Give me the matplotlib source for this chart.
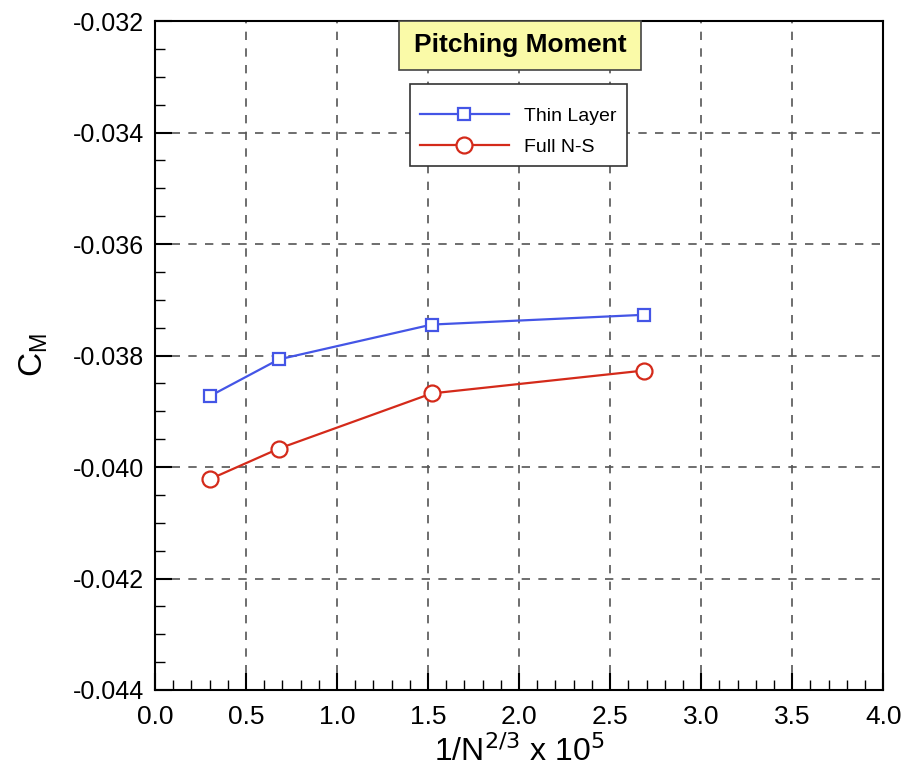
import matplotlib
matplotlib.use('Agg')
import matplotlib.pyplot as plt
from matplotlib.patches import Rectangle
from matplotlib.ticker import MultipleLocator, FormatStrFormatter

plt.rcParams['font.family'] = ['Liberation Sans', 'DejaVu Sans']

# grid refinement parameter 1/N^(2/3) x 1e5
grid_param = [0.30, 0.68, 1.52, 2.685]
cm_thin_layer = [-0.03873, -0.03807, -0.037445, -0.03727]
cm_full_ns = [-0.04022, -0.03967, -0.03868, -0.03827]

fig = plt.figure(figsize=(9.03, 7.70), dpi=100)
ax = fig.add_axes([0.1717, 0.1039, 0.8063, 0.8688])

ax.plot(grid_param, cm_thin_layer, color='#4455e6', lw=1.6, marker='s',
        ms=8.5, mfc='white', mec='#4455e6', mew=1.6, label='Thin Layer', zorder=5)
ax.plot(grid_param, cm_full_ns, color='#d42a1a', lw=1.6, marker='o',
        ms=11.5, mfc='white', mec='#d42a1a', mew=1.6, label='Full N-S', zorder=5)

ax.set_xlim(0.0, 4.0)
ax.set_ylim(-0.044, -0.032)
ax.xaxis.set_major_locator(MultipleLocator(0.5))
ax.xaxis.set_minor_locator(MultipleLocator(0.1))
ax.yaxis.set_major_locator(MultipleLocator(0.002))
ax.yaxis.set_minor_locator(MultipleLocator(0.0005))
ax.xaxis.set_major_formatter(FormatStrFormatter('%.1f'))
ax.yaxis.set_major_formatter(FormatStrFormatter('%.3f'))

ax.tick_params(which='major', direction='in', length=12, width=1.5)
ax.tick_params(which='minor', direction='in', length=7, width=1.0)
ax.tick_params(axis='y', labelsize=18, pad=8)
ax.tick_params(axis='x', labelsize=19, pad=11)
for s in ax.spines.values():
    s.set_linewidth(1.5)

ax.grid(True, which='major', color='#555555', lw=1.2, linestyle=(0, (5, 5)))

ax.set_xlabel(r'1/N$^{2/3}$ x 10$^5$', fontsize=23, labelpad=4)
ax.set_ylabel(r'C$_\mathregular{M}$', fontsize=24, labelpad=16)

# title box
ax.add_patch(Rectangle((0.335, 0.9268), 0.3326, 0.0732, transform=ax.transAxes,
                       fc='#fafaa8', ec='#444444', lw=1.2, zorder=10, clip_on=False))
ax.text(0.5014, 0.9635, 'Pitching Moment', transform=ax.transAxes,
        ha='center', va='center', fontsize=19, fontweight='bold', zorder=11)

# legend frame drawn separately so its padding can be set freely
ax.add_patch(Rectangle((0.3503, 0.7833), 0.2981, 0.1226, transform=ax.transAxes,
                       fc='white', ec='#333333', lw=1.2, zorder=10))
leg = ax.legend(loc='center left', bbox_to_anchor=(0.364, 0.8348), fontsize=14,
                frameon=False, handlelength=4.55, handletextpad=0.82,
                borderpad=0, labelspacing=0.7, borderaxespad=0)
leg.set_zorder(11)

fig.savefig('out.png', dpi=100)
